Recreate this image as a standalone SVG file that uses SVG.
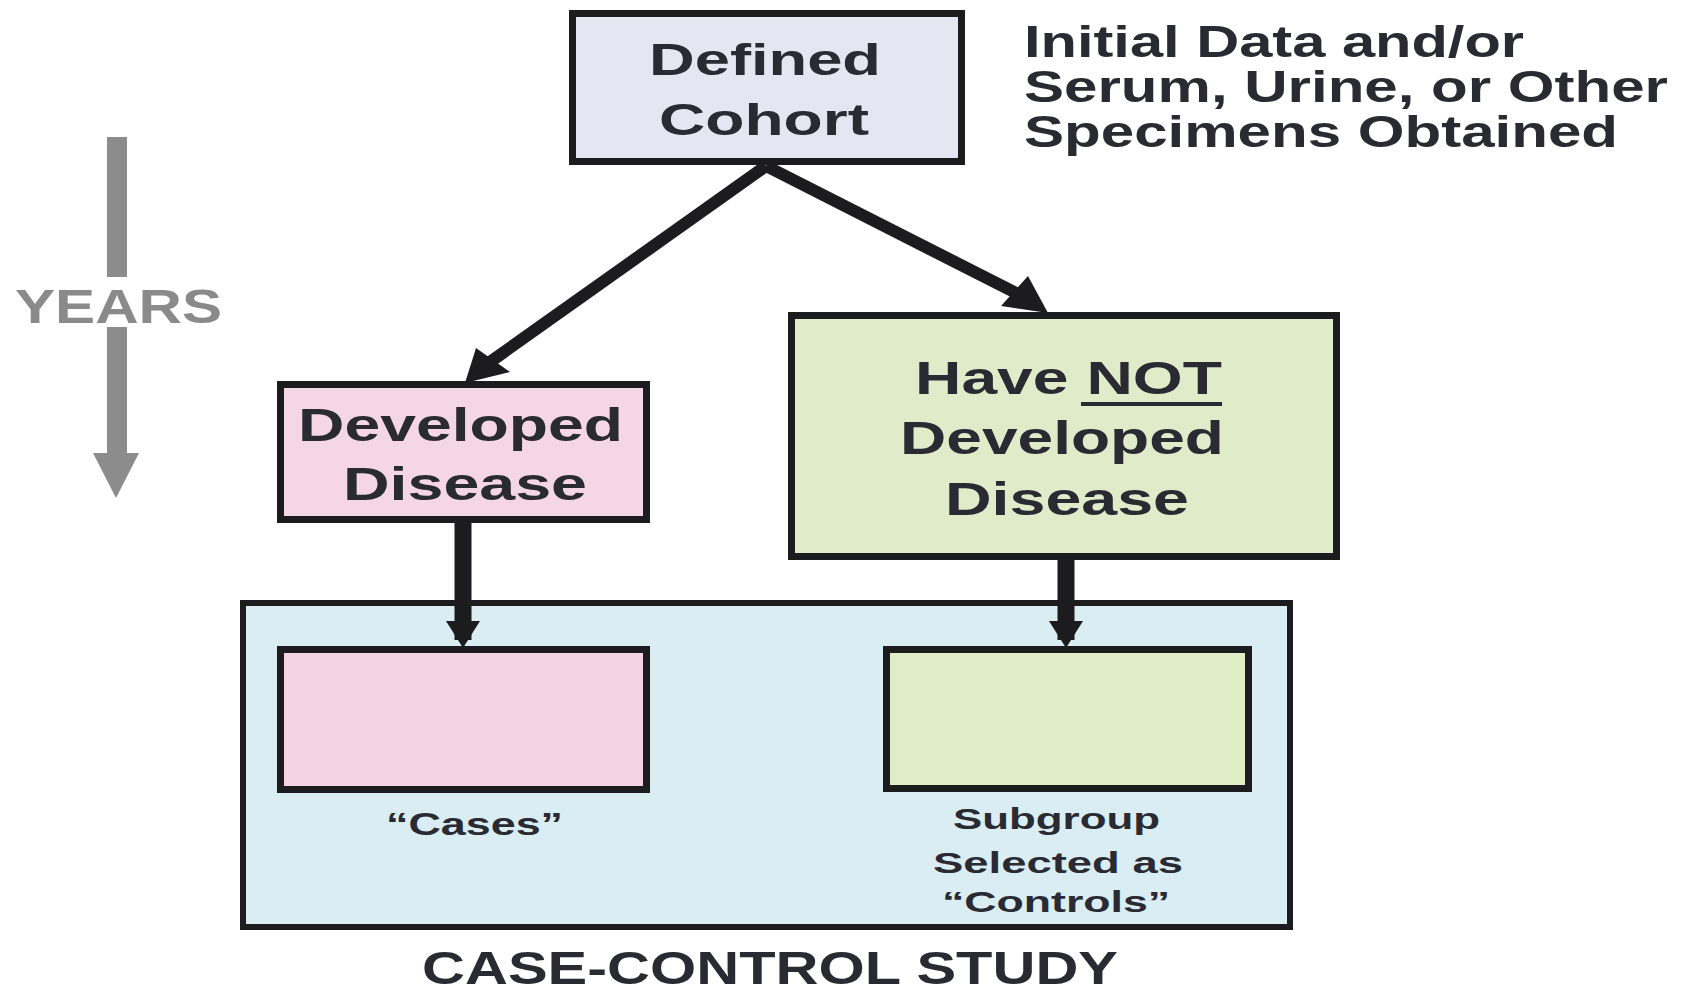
<svg xmlns="http://www.w3.org/2000/svg" width="1685" height="994" viewBox="0 0 1685 994">
<style>
.box{stroke:#1c1c1e;stroke-width:7}
.t{font-family:"Liberation Sans",Arial,sans-serif;font-weight:bold;fill:#2a2a33}
.c{fill:#1c1c1e}
.cl{stroke:#1c1c1e;fill:none}
</style>
<rect width="1685" height="994" fill="#ffffff"/>
<g id="years">
<rect x="107" y="137" width="20" height="140" fill="#8c8c8c"/>
<rect x="107" y="327" width="20" height="130" fill="#8c8c8c"/>
<polygon points="93,453 139,453 116,498" fill="#8c8c8c"/>
<text class="t" x="15" y="323" font-size="48" textLength="207" lengthAdjust="spacingAndGlyphs" style="fill:#8a8a8a">YEARS</text>
</g>
<g id="initial-data">
<text class="t" x="1024" y="57" font-size="44" textLength="500" lengthAdjust="spacingAndGlyphs">Initial Data and/or</text>
<text class="t" x="1024" y="102" font-size="44" textLength="644" lengthAdjust="spacingAndGlyphs">Serum, Urine, or Other</text>
<text class="t" x="1024" y="147" font-size="44" textLength="594" lengthAdjust="spacingAndGlyphs">Specimens Obtained</text>
</g>
<g id="study-box">
<rect x="243" y="603" width="1047" height="324" fill="#d9edf3" stroke="#1c1c1e" stroke-width="6"/>
<text class="t" x="422" y="984" font-size="46" textLength="696" lengthAdjust="spacingAndGlyphs">CASE-CONTROL STUDY</text>
</g>
<g id="connectors">
<line class="cl" x1="766" y1="166" x2="490" y2="362" stroke-width="12"/>
<polygon class="c" points="465,383 476,348 510,372"/>
<line class="cl" x1="766" y1="166" x2="1016" y2="293" stroke-width="12"/>
<polygon class="c" points="1048,313 1028,276 1001,306"/>
<line class="cl" x1="463" y1="523" x2="463" y2="640" stroke-width="17"/>
<polygon class="c" points="446,621 480,621 463,648"/>
<line class="cl" x1="1066" y1="560" x2="1066" y2="640" stroke-width="17"/>
<polygon class="c" points="1049,621 1083,621 1066,648"/>
</g>
<g id="defined-cohort">
<rect class="box" x="572.5" y="13.5" width="389" height="148" fill="#e6e6f3"/>
<text class="t" x="649" y="75" font-size="45" textLength="232" lengthAdjust="spacingAndGlyphs">Defined</text>
<text class="t" x="659" y="135" font-size="45" textLength="210" lengthAdjust="spacingAndGlyphs">Cohort</text>
</g>
<g id="developed-disease">
<rect class="box" x="280.5" y="384.5" width="366" height="135" fill="#f4d6e6"/>
<text class="t" x="298" y="441" font-size="47" textLength="325" lengthAdjust="spacingAndGlyphs">Developed</text>
<text class="t" x="343" y="500" font-size="47" textLength="244" lengthAdjust="spacingAndGlyphs">Disease</text>
</g>
<g id="not-developed">
<rect class="box" x="791.5" y="315.5" width="545" height="241" fill="#e0ebc9"/>
<text class="t" x="915" y="394" font-size="47" textLength="307" lengthAdjust="spacingAndGlyphs">Have NOT</text>
<rect x="1081" y="402" width="141" height="4" fill="#2a2a33"/>
<text class="t" x="900" y="454" font-size="47" textLength="324" lengthAdjust="spacingAndGlyphs">Developed</text>
<text class="t" x="945" y="515" font-size="47" textLength="244" lengthAdjust="spacingAndGlyphs">Disease</text>
</g>
<g id="cases">
<rect class="box" x="280.5" y="649.5" width="366" height="140" fill="#f5d3e7"/>
<text class="t" x="386" y="835" font-size="32" textLength="177" lengthAdjust="spacingAndGlyphs">“Cases”</text>
</g>
<g id="controls">
<rect class="box" x="886.5" y="649.5" width="362" height="139" fill="#e0ecc6"/>
<text class="t" x="953" y="829" font-size="30" textLength="207" lengthAdjust="spacingAndGlyphs">Subgroup</text>
<text class="t" x="933" y="873" font-size="30" textLength="250" lengthAdjust="spacingAndGlyphs">Selected as</text>
<text class="t" x="942" y="912" font-size="30" textLength="228" lengthAdjust="spacingAndGlyphs">“Controls”</text>
</g>
</svg>
